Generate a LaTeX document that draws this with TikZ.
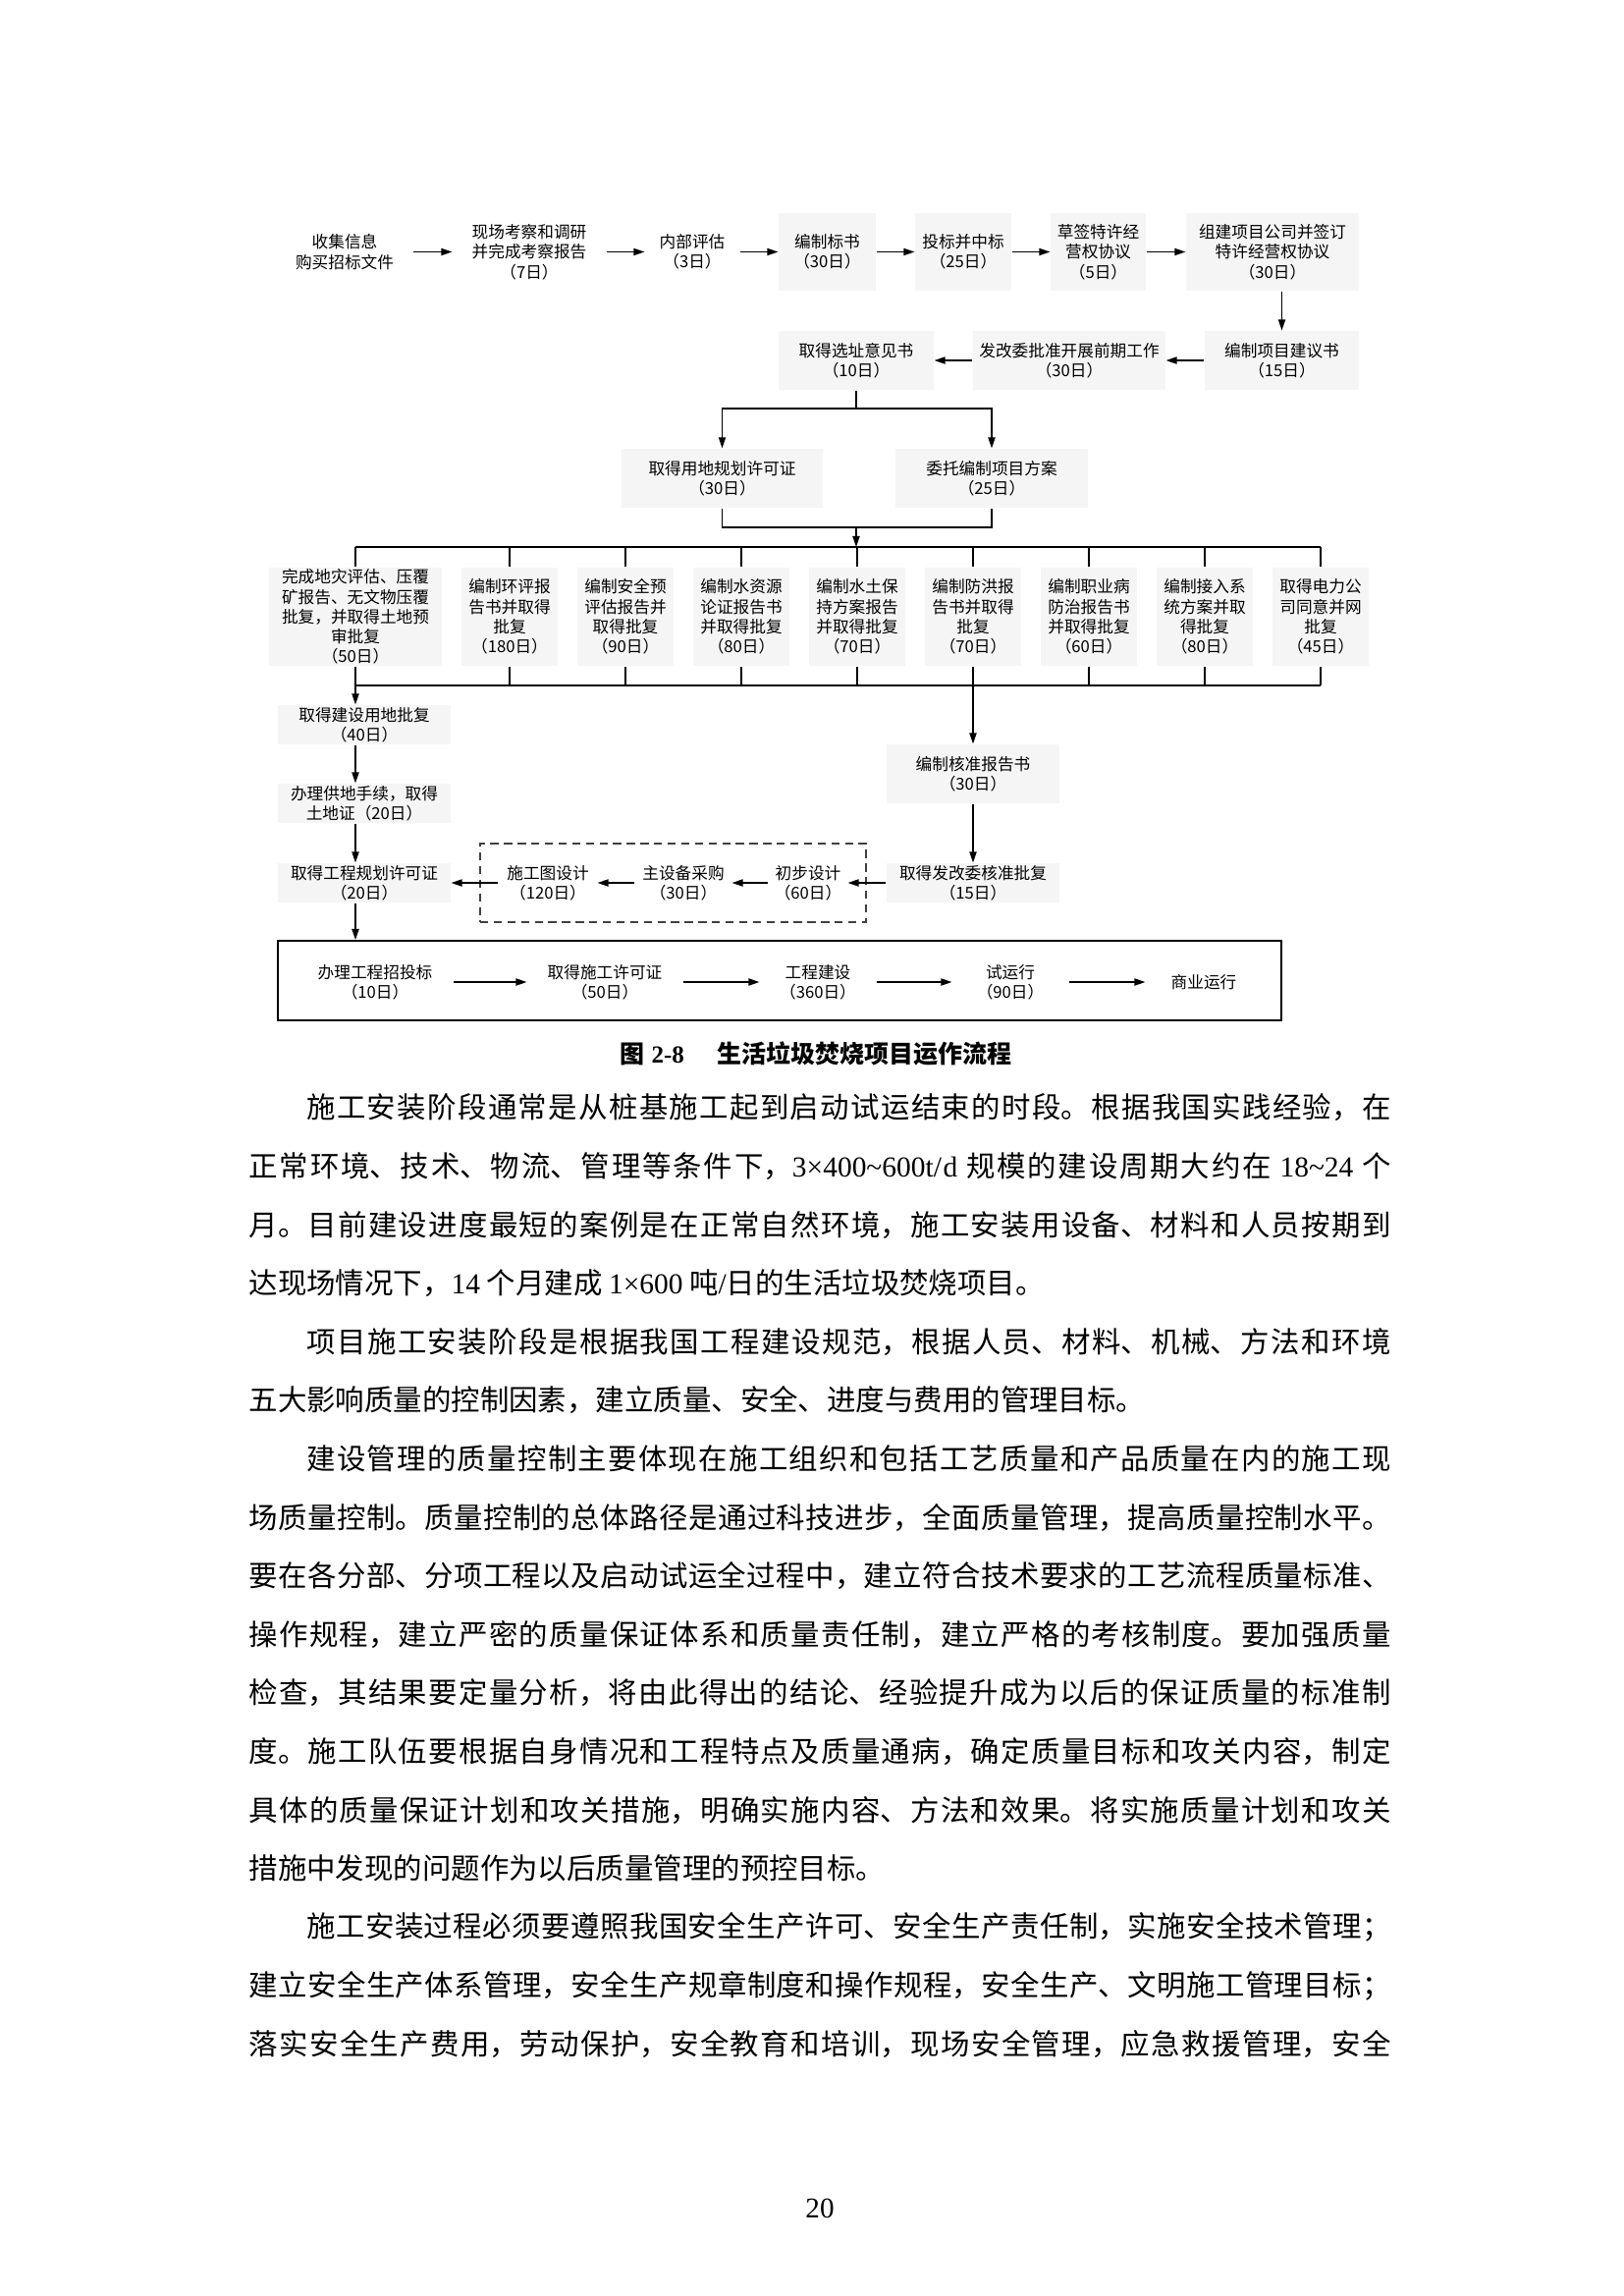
\documentclass[tikz,border=0pt]{standalone}
\usepackage{fontspec}
\setmainfont{Liberation Serif}
\newfontfamily\cjk{Noto Sans CJK SC}
\usetikzlibrary{arrows.meta}
\XeTeXlinebreaklocale "zh"
\XeTeXlinebreakskip=0pt plus 1pt
\definecolor{boxfill}{gray}{0.962}
\tikzset{
 dfont/.style={font=\cjk\fontsize{6pt}{7.3pt}\selectfont},
 bx/.style 2 args={dfont, fill=boxfill, minimum width=#1*0.36pt, minimum height=#2*0.36pt, inner sep=0pt, align=center},
 tx/.style 2 args={dfont, minimum width=#1*0.36pt, minimum height=#2*0.36pt, inner sep=0pt, align=center},
 arr/.style={-{Triangle[length=4pt,width=2.6pt]}, line width=0.5pt},
 ln/.style={line width=0.5pt},
 bodyline/.style={font=\cjk\fontsize{10.6pt}{12pt}\selectfont, text width=418.7pt, align=justify, inner sep=0pt, anchor=west},
}
\newcommand\fullline[1]{\parfillskip=0pt\noindent #1\par}
\newcommand\lastline[1]{\parfillskip=0pt plus 1fil\noindent #1\par}
\begin{document}
\begin{tikzpicture}[x=0.36pt,y=-0.36pt]
\useasboundingbox[fill=white] (0,0) rectangle (1653,2338);
% ---- top row
\node[tx={138}{79}] (n1) at (351,256.5) {收集信息\\购买招标文件};
\node[tx={156}{79}] (n2) at (539,256.5) {现场考察和调研\\并完成考察报告\\（7日）};
\node[tx={96}{79}] (n3) at (705,256.5) {内部评估\\（3日）};
\node[bx={99}{79}] (n4) at (842.5,256.5) {编制标书\\（30日）};
\node[bx={98}{79}] (n5) at (981,256.5) {投标并中标\\（25日）};
\node[bx={97}{79}] (n6) at (1118.5,256.5) {草签特许经\\营权协议\\（5日）};
\node[bx={176}{79}] (n7) at (1296,256.5) {组建项目公司并签订\\特许经营权协议\\（30日）};
\draw[arr] (n1) -- (n2);
\draw[arr] (n2) -- (n3);
\draw[arr] (n3) -- (n4);
\draw[arr] (n4) -- (n5);
\draw[arr] (n5) -- (n6);
\draw[arr] (n6) -- (n7);
% ---- second row
\node[bx={157}{60}] (n8) at (1305.5,367) {编制项目建议书\\（15日）};
\node[bx={196}{60}] (n9) at (1089,367) {发改委批准开展前期工作\\（30日）};
\node[bx={158}{60}] (n10) at (872,367) {取得选址意见书\\（10日）};
\draw[arr] (n7.south -| n8.north) -- (n8.north);
\draw[arr] (n8) -- (n9);
\draw[arr] (n9) -- (n10);
% ---- third row
\node[bx={205}{60}] (n11) at (735.5,487) {取得用地规划许可证\\（30日）};
\node[bx={196}{60}] (n12) at (1010,487) {委托编制项目方案\\（25日）};
\coordinate (s1) at (872,416);
\coordinate (m1) at (872,537);
\draw[ln] (n10.south) -- (s1);
\draw[arr] (s1) -| (n11.north);
\draw[arr] (s1) -| (n12.north);
\draw[ln] (n11.south) |- (m1);
\draw[ln] (n12.south) |- (m1);
% ---- bus rows
\coordinate (busA) at (362,557);
\coordinate (busB) at (362,698);
\draw[arr] (m1) -- (m1 |- busA);
\node[bx={176}{100}] (b1) at (362,628) {完成地灾评估、压覆\\矿报告、无文物压覆\\批复，并取得土地预\\审批复\\（50日）};
\node[bx={98}{100}] (b2) at (519,628) {编制环评报\\告书并取得\\批复\\（180日）};
\node[bx={98}{100}] (b3) at (637,628) {编制安全预\\评估报告并\\取得批复\\（90日）};
\node[bx={98}{100}] (b4) at (755,628) {编制水资源\\论证报告书\\并取得批复\\（80日）};
\node[bx={98}{100}] (b5) at (873,628) {编制水土保\\持方案报告\\并取得批复\\（70日）};
\node[bx={98}{100}] (b6) at (991,628) {编制防洪报\\告书并取得\\批复\\（70日）};
\node[bx={98}{100}] (b7) at (1109,628) {编制职业病\\防治报告书\\并取得批复\\（60日）};
\node[bx={98}{100}] (b8) at (1227,628) {编制接入系\\统方案并取\\得批复\\（80日）};
\node[bx={98}{100}] (b9) at (1345,628) {取得电力公\\司同意并网\\批复\\（45日）};
\draw[ln] (b1.north |- busA) -- (b9.north |- busA);
\draw[ln] (b1.south |- busB) -- (b9.south |- busB);
\foreach \b in {b1,b2,b3,b4,b5,b6,b7,b8,b9}{
  \draw[ln] (\b.north |- busA) -- (\b.north);
  \draw[ln] (\b.south) -- (\b.south |- busB);
}
% ---- left column
\node[bx={176}{40}] (n13) at (371,738) {取得建设用地批复\\（40日）};
\node[bx={176}{40}] (n14) at (371,818) {办理供地手续，取得\\土地证（20日）};
\node[bx={176}{40}] (n15) at (371,899) {取得工程规划许可证\\（20日）};
% ---- right column
\node[bx={176}{60}] (n16) at (991,788) {编制核准报告书\\（30日）};
\node[bx={176}{40}] (n17) at (991,899) {取得发改委核准批复\\（15日）};
% ---- dashed group
\node[draw=black!75, dash pattern=on 3pt off 2pt, line width=0.5pt, minimum width=393*0.36pt, minimum height=80*0.36pt, inner sep=0pt] (dbox) at (685.5,899) {};
\node[tx={80}{40}] (d1) at (823,899) {初步设计\\（60日）};
\node[tx={98}{40}] (d2) at (696,899) {主设备采购\\（30日）};
\node[tx={100}{40}] (d3) at (558,899) {施工图设计\\（120日）};
% ---- bottom box
\node[draw, line width=0.7pt, minimum width=1022*0.36pt, minimum height=81*0.36pt, inner sep=0pt] (bb) at (794,998.5) {};
\node[tx={158}{40}] (p1) at (382,1000) {办理工程招投标\\（10日）};
\node[tx={158}{40}] (p2) at (616,1000) {取得施工许可证\\（50日）};
\node[tx={118}{40}] (p3) at (833,1000) {工程建设\\（360日）};
\node[tx={118}{40}] (p4) at (1029,1000) {试运行\\（90日）};
\node[tx={118}{40}] (p5) at (1226,1000) {商业运行};
% ---- connectors
\draw[arr] (busB) -- (busB |- n13.north);
\draw[arr] (n13.south -| busB) -- (n14.north -| busB);
\draw[arr] (n14.south -| busB) -- (n15.north -| busB);
\draw[arr] (n15.south -| busB) -- (bb.north -| busB);
\draw[arr] (n16.north |- busB) -- (n16.north);
\draw[arr] (n16) -- (n17);
\draw[arr] (n17) -- (d1);
\draw[arr] (d1) -- (d2);
\draw[arr] (d2) -- (d3);
\draw[arr] (d3) -- (n15);
\draw[arr] (p1) -- (p2);
\draw[arr] (p2) -- (p3);
\draw[arr] (p3) -- (p4);
\draw[arr] (p4) -- (p5);
% ---- caption
\node[inner sep=0pt] (cap) at (831,1073) {\fontsize{9pt}{11pt}\selectfont{\cjk\bfseries 图}\kern 2.4pt{\bfseries 2-8}\kern 12pt{\cjk\bfseries 生活垃圾焚烧项目运作流程}};
% ---- body text
\node[bodyline] (l1) at (253,1128) {\fullline{\hspace*{2em}施工安装阶段通常是从桩基施工起到启动试运结束的时段。根据我国实践经验，在}};
\node[bodyline] (l2) at (253,1187.6) {\fullline{正常环境、技术、物流、管理等条件下，{\rmfamily 3×400\textasciitilde600t/d} 规模的建设周期大约在 {\rmfamily 18\textasciitilde24} 个}};
\node[bodyline] (l3) at (253,1247.2) {\fullline{月。目前建设进度最短的案例是在正常自然环境，施工安装用设备、材料和人员按期到}};
\node[bodyline] (l4) at (253,1306.8) {\lastline{达现场情况下，{\rmfamily 14} 个月建成 {\rmfamily 1×600} 吨{\rmfamily /}日的生活垃圾焚烧项目。}};
\node[bodyline] (l5) at (253,1366.4) {\fullline{\hspace*{2em}项目施工安装阶段是根据我国工程建设规范，根据人员、材料、机械、方法和环境}};
\node[bodyline] (l6) at (253,1426) {\lastline{五大影响质量的控制因素，建立质量、安全、进度与费用的管理目标。}};
\node[bodyline] (l7) at (253,1485.6) {\fullline{\hspace*{2em}建设管理的质量控制主要体现在施工组织和包括工艺质量和产品质量在内的施工现}};
\node[bodyline] (l8) at (253,1545.2) {\fullline{场质量控制。质量控制的总体路径是通过科技进步，全面质量管理，提高质量控制水平。}};
\node[bodyline] (l9) at (253,1604.8) {\fullline{要在各分部、分项工程以及启动试运全过程中，建立符合技术要求的工艺流程质量标准、}};
\node[bodyline] (l10) at (253,1664.4) {\fullline{操作规程，建立严密的质量保证体系和质量责任制，建立严格的考核制度。要加强质量}};
\node[bodyline] (l11) at (253,1724) {\fullline{检查，其结果要定量分析，将由此得出的结论、经验提升成为以后的保证质量的标准制}};
\node[bodyline] (l12) at (253,1783.6) {\fullline{度。施工队伍要根据自身情况和工程特点及质量通病，确定质量目标和攻关内容，制定}};
\node[bodyline] (l13) at (253,1843.2) {\fullline{具体的质量保证计划和攻关措施，明确实施内容、方法和效果。将实施质量计划和攻关}};
\node[bodyline] (l14) at (253,1902.8) {\lastline{措施中发现的问题作为以后质量管理的预控目标。}};
\node[bodyline] (l15) at (253,1962.4) {\fullline{\hspace*{2em}施工安装过程必须要遵照我国安全生产许可、安全生产责任制，实施安全技术管理；}};
\node[bodyline] (l16) at (253,2022) {\fullline{建立安全生产体系管理，安全生产规章制度和操作规程，安全生产、文明施工管理目标；}};
\node[bodyline] (l17) at (253,2081.6) {\fullline{落实安全生产费用，劳动保护，安全教育和培训，现场安全管理，应急救援管理，安全}};
% ---- page number
\node[inner sep=0pt] (pg) at (835,2249) {\fontsize{10.5pt}{12pt}\selectfont 20};
\end{tikzpicture}
\end{document}
